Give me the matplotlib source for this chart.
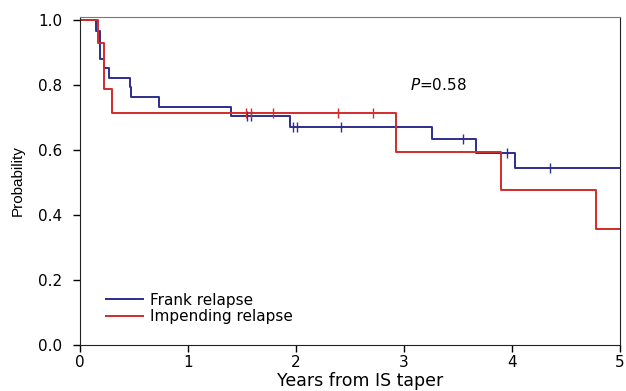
import matplotlib
matplotlib.use("Agg")
import matplotlib.pyplot as plt

# ─── Dados ────────────────────────────────────────────────────────────────────
frank_t = [0, 0.145, 0.185, 0.225, 0.27, 0.463, 0.472, 0.73, 1.40, 1.944, 3.256, 3.67, 4.03, 5.0]
frank_s = [1.0, 0.967, 0.879, 0.851, 0.82, 0.793, 0.762, 0.733, 0.705, 0.672, 0.633, 0.592, 0.546, 0.546]
frank_cens_t = [1.55, 1.58, 1.97, 2.01, 2.42, 3.55, 3.95, 4.35]

imp_t = [0, 0.164, 0.225, 0.30, 2.93, 3.90, 4.78, 5.0]
imp_s = [1.0, 0.928, 0.787, 0.713, 0.595, 0.477, 0.357, 0.357]
imp_cens_t = [1.54, 1.58, 1.79, 2.39, 2.71]

x_ticks = [0, 1, 2, 3, 4, 5]
y_ticks = [0.0, 0.2, 0.4, 0.6, 0.8, 1.0]

AZUL = "#2e2e8c"
VERMELHO = "#d42b2b"

plt.rcParams["font.family"] = ["DejaVu Sans"]


def surv_at(ts, ss, t):
    val = ss[0]
    for ti, si in zip(ts, ss):
        if ti <= t:
            val = si
    return val


fig = plt.figure(figsize=(6.26, 3.91), dpi=100)
ax = fig.add_axes([80 / 626, 46 / 391, 540 / 626, 328 / 391])

ax.step(frank_t, frank_s, where="post", color=AZUL, lw=1.4, label="Frank relapse")
ax.step(imp_t, imp_s, where="post", color=VERMELHO, lw=1.4, label="Impending relapse")

# marcas de censura
ax.plot(frank_cens_t, [surv_at(frank_t, frank_s, t) for t in frank_cens_t],
        ls="none", marker="|", ms=7, mew=1.0, color=AZUL)
ax.plot(imp_cens_t, [surv_at(imp_t, imp_s, t) for t in imp_cens_t],
        ls="none", marker="|", ms=7, mew=1.0, color=VERMELHO)

ax.set_xlim(0, 5)
ax.set_ylim(0, 1.009)
ax.set_xticks(x_ticks)
ax.set_xticklabels([str(v) for v in x_ticks])
ax.set_yticks(y_ticks)
ax.set_yticklabels([f"{v:.1f}" for v in y_ticks])
ax.tick_params(axis="both", direction="out", labelsize=11, length=5, width=1, pad=2)
ax.tick_params(axis="y", pad=8)

for lado in ["left", "bottom", "right"]:
    ax.spines[lado].set_color("#222222")
ax.spines["top"].set_color("#777777")

ax.text(3.06, 0.80, r"$\it{P}$=0.58", fontsize=11, va="center", ha="left")

ax.legend(loc="lower left", bbox_to_anchor=(0.037, 0.045), frameon=False,
          fontsize=11, handlelength=2.4, handletextpad=0.5, labelspacing=0.1,
          borderaxespad=0)

fig.text(18 / 626, 1 - 181 / 391, "Probability", rotation=90, va="center", ha="center",
         fontsize=11, family=["Liberation Sans Narrow", "Liberation Sans"])
fig.text(360 / 626, 1 - 381 / 391, "Years from IS taper", va="center", ha="center", fontsize=12.5)

fig.savefig("out.png", dpi=100)
